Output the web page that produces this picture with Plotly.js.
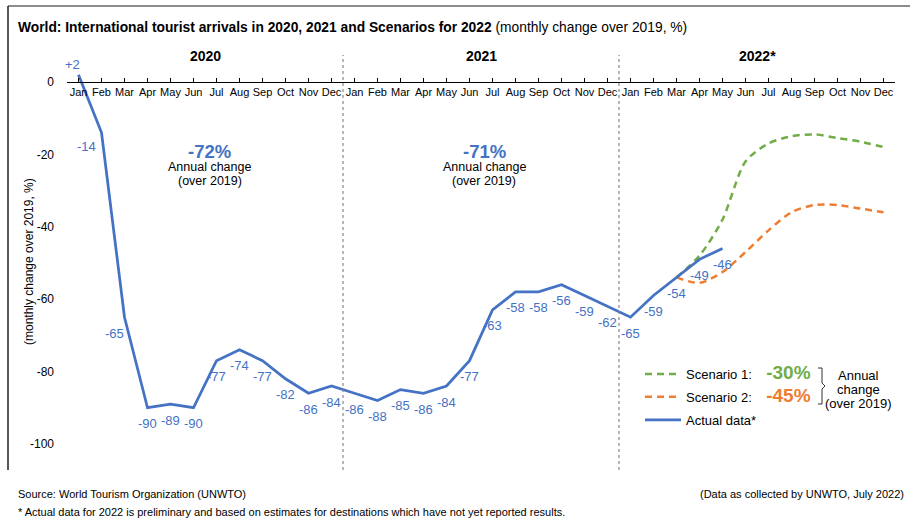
<!DOCTYPE html>
<html>
<head>
<meta charset="utf-8">
<script src="https://cdn.plot.ly/plotly-3.0.1.min.js"></script>
<style>html,body{margin:0;padding:0;background:#fff;}#chart{width:910px;height:519px;}</style>
</head>
<body>
<div id="chart"></div>
<script>
// ---------- data ----------
var monthNames = ['Jan','Feb','Mar','Apr','May','Jun','Jul','Aug','Sep','Oct','Nov','Dec'];
var years = ['2020', '2021', '2022*'];
var actual2020 = [2, -14, -65, -90, -89, -90, -77, -74, -77, -82, -86, -84];
var actual2021 = [-86, -88, -85, -86, -84, -77, -63, -58, -58, -56, -59, -62];
var actual2022 = [-65, -59, -54, -49, -46];
var scenario1 = [-54, -48, -38, -22, -17, -15, -14.5, -15.5, -16.5, -18];   // Mar-Dec 2022
var scenario2 = [-54, -55.5, -52.5, -47, -41, -36, -34, -34, -35, -36];      // Mar-Dec 2022
var annualChange = ['-72%', '-71%'];
var scenarioAnnual = ['-30%', '-45%'];
var yTicks = [0, -20, -40, -60, -80, -100];

// ---------- derived ----------
var actual = actual2020.concat(actual2021, actual2022);
var actualX = actual.map(function (v, i) { return i; });
var scenX = scenario1.map(function (v, i) { return 26 + i; });
var tickvals = [], ticktext = [];
for (var k = 0; k < 36; k++) { tickvals.push(k); ticktext.push(monthNames[k % 12]); }

// ---------- geometry helpers ----------
var W = 910, H = 519, ML = 67, MR = 15, MT = 45, MB = 49;
var PW = W - ML - MR, PH = H - MT - MB;
function px(x) { return (x - ML) / PW; }
function py(y) { return (H - MB - y) / PH; }
var yRange = [-107.2, 10.2];
var xAxisPos = (0 - yRange[0]) / (yRange[1] - yRange[0]);

var FONT = 'Liberation Sans, Arial, Helvetica, sans-serif';
var BLUE = '#4472C4', GREEN = '#70AD47', ORANGE = '#ED7D31';

var traces = [
  { x: scenX, y: scenario1, mode: 'lines', type: 'scatter', legendgroup: 's1',
    name: 'Scenario 1:&nbsp;&nbsp;&nbsp;&nbsp;<b><span style="font-size:19px;color:' + GREEN + '">' + scenarioAnnual[0] + '</span></b>',
    line: { color: GREEN, width: 2.5, dash: '7px,5px', shape: 'spline', smoothing: 0.8 }, hoverinfo: 'skip' },
  { x: scenX, y: scenario2, mode: 'lines', type: 'scatter', legendgroup: 's2',
    name: 'Scenario 2:&nbsp;&nbsp;&nbsp;&nbsp;<b><span style="font-size:19px;color:' + ORANGE + '">' + scenarioAnnual[1] + '</span></b>',
    line: { color: ORANGE, width: 2.5, dash: '7px,5px', shape: 'spline', smoothing: 0.8 }, hoverinfo: 'skip' },
  { x: actualX, y: actual, mode: 'lines', type: 'scatter', name: 'Actual data*', legendgroup: 'a',
    line: { color: BLUE, width: 2.75 }, hoverinfo: 'skip' }
];

function note(x, y, text, size, color, extra) {
  var a = { x: x, y: y, xref: 'paper', yref: 'paper', xanchor: 'center', yanchor: 'middle',
    showarrow: false, text: text, font: { family: FONT, size: size, color: color || '#000' } };
  for (var key in (extra || {})) a[key] = extra[key];
  return a;
}

// data labels for actual series
var special = { 0: [-6, 10], 1: [-15, -14], 2: [-10, -16] };
var annotations = [];
actual.forEach(function (v, i) {
  var off = special[i] || [0, -16];
  annotations.push({ x: i, y: v, xref: 'x', yref: 'y', showarrow: false, xanchor: 'center', yanchor: 'middle',
    text: (v > 0 ? '+' : '') + v, xshift: off[0], yshift: off[1],
    font: { family: FONT, size: 13, color: BLUE } });
});

// year headers
years.forEach(function (yr, j) {
  annotations.push(note(5.5 + 12 * j, py(56), '<b>' + yr + '</b>', 14, '#000', { xref: 'x' }));
});

// annual change blocks for 2020 and 2021
annualChange.forEach(function (t, j) {
  var xc = 5.7 + 12 * j - (j ? 0.05 : 0);
  annotations.push(note(xc, py(151), '<b>' + t + '</b>', 18.5, BLUE, { xref: 'x' }));
  annotations.push(note(xc, py(167), 'Annual change', 12.5, '#000', { xref: 'x' }));
  annotations.push(note(xc, py(181), '(over 2019)', 12.5, '#000', { xref: 'x' }));
});

// legend side note
['Annual', 'change', '(over 2019)'].forEach(function (t, j) {
  annotations.push(note(px(858), py(375 + 14 * j), t, 13));
});

// y axis title
annotations.push(note(px(29), py(262), '(monthly change over 2019, %)', 12, '#000', { textangle: -90 }));

// footer
annotations.push(note(px(16), py(494), 'Source: World Tourism Organization (UNWTO)', 11, '#000', { xanchor: 'left' }));
annotations.push(note(px(906), py(494), '(Data as collected by UNWTO, July 2022)', 11, '#000', { xanchor: 'right' }));
annotations.push(note(px(16), py(512),
  '* Actual data for 2022 is preliminary and based on estimates for destinations which have not yet reported results.',
  11, '#000', { xanchor: 'left' }));

var shapes = [
  { type: 'line', xref: 'x', yref: 'paper', x0: 11.5, x1: 11.5, y0: py(470), y1: py(55),
    line: { color: '#888', width: 1.2, dash: 'dot' } },
  { type: 'line', xref: 'x', yref: 'paper', x0: 23.5, x1: 23.5, y0: py(470), y1: py(55),
    line: { color: '#888', width: 1.2, dash: 'dot' } },
  // frame
  { type: 'line', xref: 'paper', yref: 'paper', x0: px(8), x1: px(910), y0: py(6), y1: py(6),
    line: { color: '#666', width: 1.5 } },
  { type: 'line', xref: 'paper', yref: 'paper', x0: px(8), x1: px(8), y0: py(6), y1: py(470),
    line: { color: '#222', width: 1.5 } },
  // bracket
  { type: 'path', xref: 'paper', yref: 'paper',
    path: 'M' + px(818) + ',' + py(368) + ' L' + px(822) + ',' + py(368) + ' L' + px(822) + ',' + py(383) +
          ' L' + px(825) + ',' + py(386) + ' L' + px(822) + ',' + py(389) + ' L' + px(822) + ',' + py(404) +
          ' L' + px(818) + ',' + py(404),
    line: { color: '#333', width: 1 } }
];

var layout = {
  width: W, height: H,
  margin: { l: ML, r: MR, t: MT, b: MB },
  paper_bgcolor: '#fff', plot_bgcolor: '#fff',
  font: { family: FONT, size: 12, color: '#000' },
  title: { text: '<b>World: International tourist arrivals in 2020, 2021 and Scenarios for 2022</b> (monthly change over 2019, %)',
    x: 18 / W, xanchor: 'left', xref: 'container', y: 1 - 27 / H, yanchor: 'middle', yref: 'container',
    font: { family: FONT, size: 13.8, color: '#000' } },
  xaxis: { range: [-0.5, 35.5], tickvals: tickvals, ticktext: ticktext, anchor: 'free', position: xAxisPos,
    showgrid: false, zeroline: false, showline: true, linecolor: '#000', linewidth: 1,
    ticks: 'inside', ticklen: 4, tickcolor: '#000', tickangle: 0,
    tickfont: { family: FONT, size: 11, color: '#000' }, fixedrange: true },
  yaxis: { range: yRange, tickvals: yTicks, ticktext: yTicks.map(String),
    showgrid: false, zeroline: false, showline: false, ticks: '', ticklabelstandoff: 12,
    tickfont: { family: FONT, size: 12, color: '#000' }, fixedrange: true },
  showlegend: true,
  legend: { x: px(640), y: py(359), xanchor: 'left', yanchor: 'top', bgcolor: 'rgba(0,0,0,0)',
    font: { family: FONT, size: 13, color: '#000' }, itemwidth: 36, tracegroupgap: 3 },
  annotations: annotations,
  shapes: shapes
};

Plotly.newPlot('chart', traces, layout, { displayModeBar: false, staticPlot: true });
</script>
</body>
</html>
